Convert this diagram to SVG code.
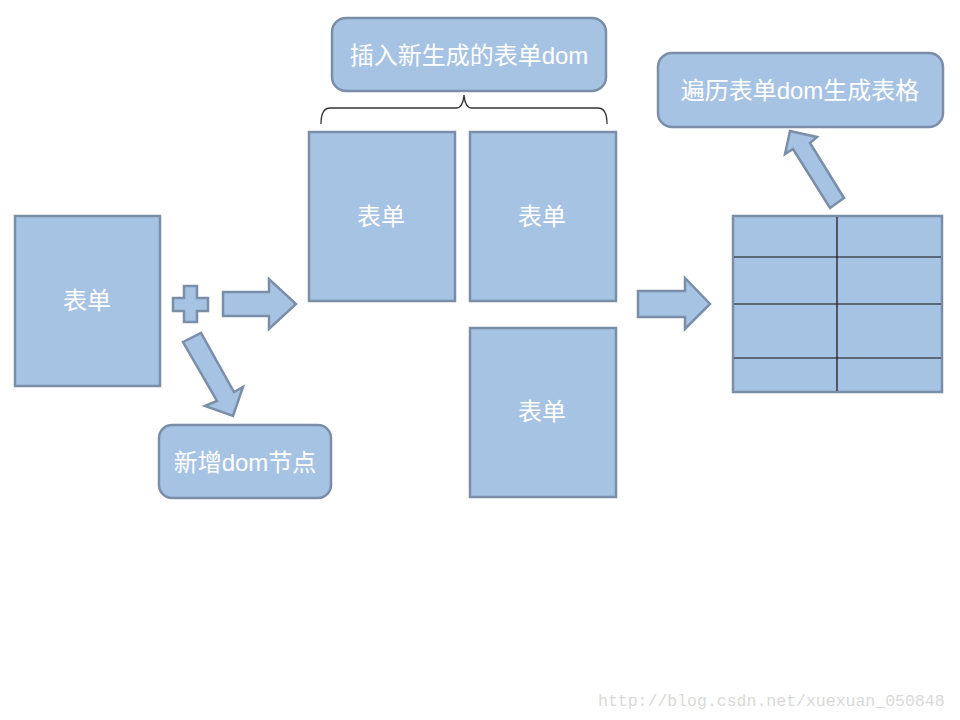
<svg xmlns="http://www.w3.org/2000/svg" width="960" height="720" viewBox="0 0 960 720">
<style>
.s{fill:#a7c3e3;stroke:#7a8ea8;stroke-width:2.5}
.t{fill:#ffffff;font-family:"Liberation Sans","Noto Sans CJK SC",sans-serif;font-size:24px;text-anchor:middle;dominant-baseline:central}
.g{stroke:#111;stroke-width:1.2}
.w{fill:#d9d9d9;font-family:"Liberation Mono","Noto Sans CJK SC",monospace;font-size:16.5px}
</style>
<rect width="960" height="720" fill="#ffffff"/>
<g id="form-left"><rect class="s" x="15" y="216" width="145" height="170"/><text class="t" x="87" y="300">表单</text></g>
<g id="form-mid1"><rect class="s" x="309" y="132" width="146" height="169"/><text class="t" x="381" y="216">表单</text></g>
<g id="form-mid2"><rect class="s" x="470" y="132" width="146" height="169"/><text class="t" x="542" y="216">表单</text></g>
<g id="form-mid3"><rect class="s" x="470" y="328" width="146" height="169"/><text class="t" x="542" y="411">表单</text></g>
<g id="add-node"><rect class="s" x="159" y="425" width="172" height="73" rx="13"/><text class="t" x="245" y="462">新增dom节点</text></g>
<g id="insert-node"><rect class="s" x="332" y="18" width="274" height="73" rx="14"/><text class="t" x="469" y="55">插入新生成的表单dom</text></g>
<g id="traverse-node"><rect class="s" x="658" y="53" width="285" height="74" rx="14"/><text class="t" x="800" y="90">遍历表单dom生成表格</text></g>
<g id="table">
<rect class="s" x="733" y="216" width="209" height="176"/>
<line class="g" x1="837" y1="217" x2="837" y2="391"/>
<line class="g" x1="734" y1="257" x2="941" y2="257"/>
<line class="g" x1="734" y1="304" x2="941" y2="304"/>
<line class="g" x1="734" y1="358" x2="941" y2="358"/>
</g>
<g id="connectors">
<polygon class="s" points="184,286 197,286 197,298 208,298 208,311 197,311 197,322 184,322 184,311 173,311 173,298 184,298"/>
<polygon class="s" points="223,292 269,292 269,279 296,304 269,329 269,316 223,316"/>
<polygon class="s" points="183,342 201,333 234,392 243,387 233,416 205,406 217,401"/>
<polygon class="s" points="638,291 685,291 685,278 710,304 685,329 685,317 638,317"/>
<polygon class="s" points="830,208 844,198 810,143 817,137 790,131 785,154 793,149"/>
<path d="M321,124 Q321,108 330,108 L456,108 Q463,108 464,95 Q465,108 472,108 L598,108 Q607,108 607,124" fill="none" stroke="#333" stroke-width="1.3"/>
</g>
<text class="w" x="598" y="706">http://blog.csdn.net/xuexuan_050848</text>
</svg>
